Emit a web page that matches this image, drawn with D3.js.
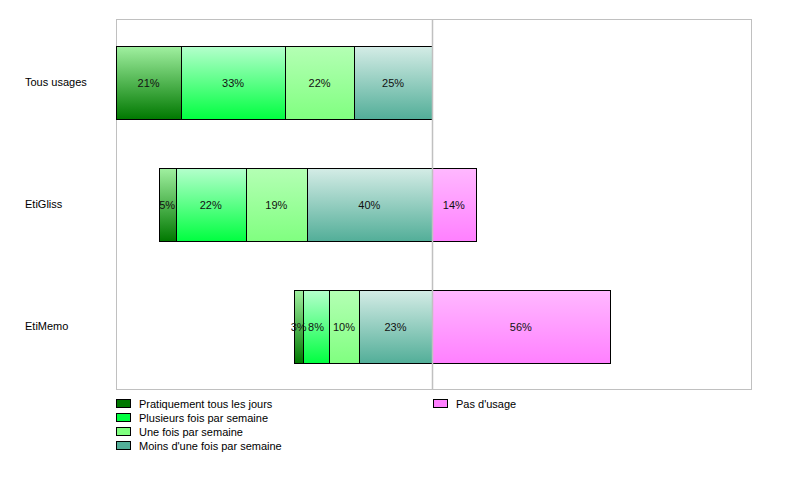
<!DOCTYPE html>
<html><head><meta charset="utf-8">
<script src="https://cdn.jsdelivr.net/npm/d3@7"></script>
<style>body{margin:0;background:#fff}svg{display:block;font-family:"Liberation Sans",Arial,sans-serif}</style>
</head><body>
<svg id="c" width="801" height="481"></svg>
<script>
const categories = ["Tous usages", "EtiGliss", "EtiMemo"];
const seriesNames = ["Pratiquement tous les jours", "Plusieurs fois par semaine", "Une fois par semaine", "Moins d'une fois par semaine", "Pas d'usage"];
const pratiquement = [20.6, 5.4, 2.8];
const plusieurs = [32.9, 22.2, 8.2];
const uneFois = [21.9, 19.3, 9.5];
const moins = [24.6, 39.6, 23.1];
const pasUsage = [0, 13.9, 56.3];
const baseColors = ["#007800", "#00ff40", "#80ff80", "#52ae98", "#ff80ff"];
const topColors = ["#a0f0a0", "#b4ffcc", "#b4ffb4", "#d4ece6", "#ffb8ff"];

const svg = d3.select("#c");
const x = d3.scaleLinear().domain([-100, 101]).range([116, 751]);
const y = d3.scaleBand().domain(categories).range([21.5, 387.5]).paddingInner(0.4).paddingOuter(0.2);

const defs = svg.append("defs");
baseColors.forEach((c, i) => {
  const g = defs.append("linearGradient").attr("id", "g" + i).attr("x1", 0).attr("y1", 0).attr("x2", 0).attr("y2", 1);
  g.append("stop").attr("offset", "0%").attr("stop-color", topColors[i]);
  g.append("stop").attr("offset", "100%").attr("stop-color", c);
});

// plot frame
svg.append("rect").attr("x", 116.5).attr("y", 19.5).attr("width", 635).attr("height", 370)
  .attr("fill", "none").attr("stroke", "#c0c0c0").attr("stroke-width", 1);

const negSeries = [pratiquement, plusieurs, uneFois, moins];
const segs = [];
categories.forEach((cat, ci) => {
  const total = negSeries.reduce((s, a) => s + a[ci], 0);
  let start = -total;
  negSeries.forEach((arr, si) => {
    const v = arr[ci];
    segs.push({cat, si, x0: start, x1: start + v, v});
    start += v;
  });
  if (pasUsage[ci] > 0) segs.push({cat, si: 4, x0: 0, x1: pasUsage[ci], v: pasUsage[ci]});
});

const g = svg.append("g");
g.selectAll("rect").data(segs).join("rect")
  .attr("x", d => Math.round(x(d.x0)) + 0.5)
  .attr("y", d => Math.round(y(d.cat)) + 0.5)
  .attr("width", d => Math.round(x(d.x1)) - Math.round(x(d.x0)))
  .attr("height", Math.round(y.bandwidth()))
  .attr("fill", d => `url(#g${d.si})`)
  .attr("stroke", "#000").attr("stroke-width", 1);

g.selectAll("text").data(segs).join("text")
  .attr("x", d => (x(d.x0) + x(d.x1)) / 2)
  .attr("y", d => y(d.cat) + y.bandwidth() / 2)
  .attr("text-anchor", "middle").attr("dominant-baseline", "central")
  .attr("font-size", 11).attr("fill", "#111")
  .text(d => Math.round(d.v) + "%");

// zero line
svg.append("line").attr("x1", Math.round(x(0)) + 0.5).attr("x2", Math.round(x(0)) + 0.5)
  .attr("y1", 19.5).attr("y2", 389.5).attr("stroke", "#c0c0c0").attr("stroke-width", 1.5);

// category labels
svg.selectAll("text.cat").data(categories).join("text").attr("class", "cat")
  .attr("x", 25).attr("y", d => y(d) + y.bandwidth() / 2 - 1)
  .attr("dominant-baseline", "central").attr("font-size", 11).attr("fill", "#000")
  .text(d => d);

// legend
const legendPos = [[116, 404], [116, 418], [116, 432], [116, 446], [433, 404]];
seriesNames.forEach((n, i) => {
  const [lx, ly] = legendPos[i];
  svg.append("rect").attr("x", lx + 0.5).attr("y", ly - 4.5).attr("width", 14).attr("height", 8)
    .attr("fill", baseColors[i]).attr("stroke", "#000").attr("stroke-width", 1);
  svg.append("text").attr("x", lx + 23).attr("y", ly).attr("dominant-baseline", "central")
    .attr("font-size", 11).attr("fill", "#000").text(n);
});
</script>
</body></html>
